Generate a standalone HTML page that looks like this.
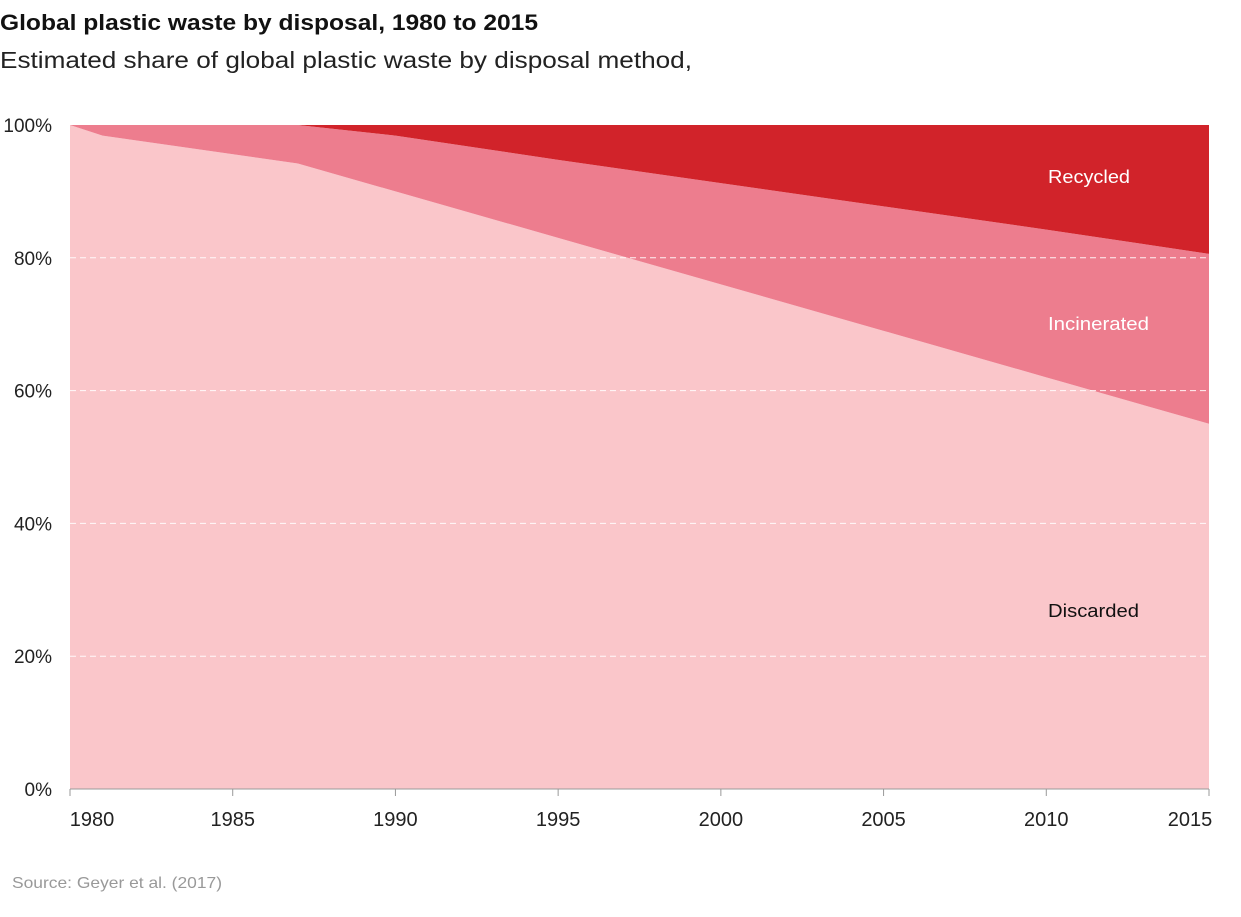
<!DOCTYPE html>
<html><head><meta charset="utf-8"><style>
body{margin:0;background:#fff;width:1241px;height:912px;overflow:hidden;font-family:"Liberation Sans",sans-serif}
</style></head><body>
<svg width="1241" height="912" font-family="Liberation Sans, sans-serif">
<text x="0" y="30" font-size="22" font-weight="bold" fill="#111" textLength="538" lengthAdjust="spacingAndGlyphs">Global plastic waste by disposal, 1980 to 2015</text>
<text x="0" y="68" font-size="23" fill="#222" textLength="692" lengthAdjust="spacingAndGlyphs">Estimated share of global plastic waste by disposal method,</text>
<g id="plot"></g>
<text x="12" y="888" font-size="16" fill="#999" textLength="210" lengthAdjust="spacingAndGlyphs">Source: Geyer et al. (2017)</text>
</svg>
<script>
const years=[1980,1981,1987,1990,1995,2000,2005,2010,2015];
const recycled=[0,0,0,1.6,5.25,8.75,12.25,15.75,19.4];
const discarded=[100,98.4,94.2,90,83,76,69,62,55];
const yTicks=[0,20,40,60,80,100];
const xTicks=[1980,1985,1990,1995,2000,2005,2010,2015];
const NS='http://www.w3.org/2000/svg';
const g=document.getElementById('plot');
const x=v=>70+(v-1980)/(35)*(1209-70);
const y=v=>789-v*6.64;
function mk(t,a){const e=document.createElementNS(NS,t);for(const k in a)e.setAttribute(k,a[k]);g.appendChild(e);return e;}
function area(lo,hi,fill,name){
  let d='M'+years.map((yr,i)=>x(yr)+','+y(hi[i])).join('L');
  for(let i=years.length-1;i>=0;i--)d+='L'+x(years[i])+','+y(lo[i]);
  const p=mk('path',{d:d+'Z',fill:fill});
  
  
}
const zero=years.map(()=>0),hundred=years.map(()=>100);
const topInc=recycled.map(r=>100-r);
area(zero,discarded,'#fac6ca','area-discarded');
area(discarded,topInc,'#ed7d8e','area-incinerated');
area(topInc,hundred,'#d1232a','area-recycled');
yTicks.forEach(t=>{
  if(t>0&&t<100){const l=mk('line',{x1:70,x2:1209,y1:y(t),y2:y(t),stroke:'#fff','stroke-dasharray':'6,4','stroke-width':1,opacity:0.9});
  }
  const tx=mk('text',{x:52,y:y(t)+7,'font-size':19,fill:'#222','text-anchor':'end'});tx.textContent=t+'%';
  
});
const ax=mk('line',{x1:70,x2:1209,y1:789,y2:789,stroke:'#999'});

xTicks.forEach(t=>{
  const tk=mk('line',{x1:x(t),x2:x(t),y1:789,y2:796,stroke:'#999'});
  
  const tx=mk('text',{x:t==2015?1190:(t==1980?92:x(t)),y:826,'font-size':20,fill:'#222','text-anchor':'middle'});tx.textContent=t;
  
});
[['Recycled',183,'#fff',82],['Incinerated',330,'#fff',101],['Discarded',617,'#111',91]].forEach(([s,yy,c,w])=>{
  const tx=mk('text',{x:1048,y:yy,'font-size':18,fill:c,textLength:w,lengthAdjust:'spacingAndGlyphs'});tx.textContent=s;
  
});
</script>
</body></html>
